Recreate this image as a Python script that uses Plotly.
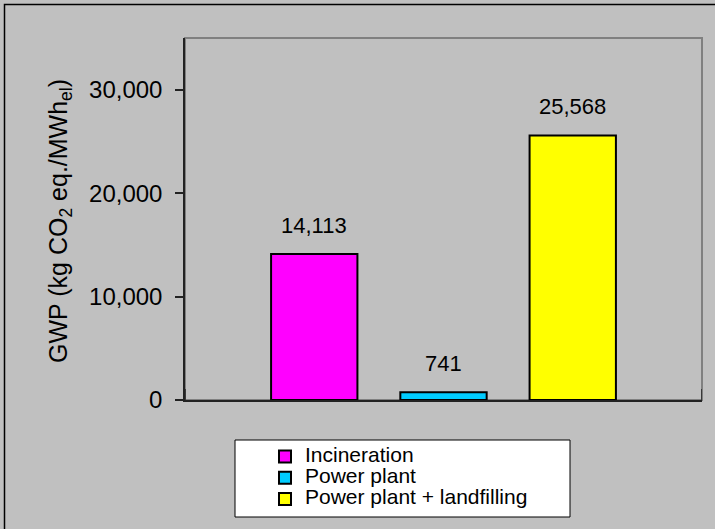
import plotly.graph_objects as go

# Global warming potential per MWh of electricity for each treatment route
series_names = ["Incineration", "Power plant", "Power plant + landfilling"]
gwp_values = [14113, 741, 25568]
bar_colors = ["#ff00ff", "#00ccff", "#ffff00"]
y_tick_values = [0, 10000, 20000, 30000]

FONT = "Liberation Sans, Arial, sans-serif"
W, H = 715, 529
M_L, M_R, M_T, M_B = 185, 13, 38, 129
PW, PH = W - M_L - M_R, H - M_T - M_B


def px_x(px):
    return (px - M_L) / PW


def px_y(py):
    return (H - M_B - py) / PH


fig = go.Figure()
for i, (name, val, col) in enumerate(zip(series_names, gwp_values, bar_colors)):
    fig.add_trace(go.Bar(
        x=[i], y=[val],
        name=f'<span style="font-size:21px">{name}</span>',
        width=0.668,
        marker=dict(color=col, line=dict(color="#000000", width=2)),
        hoverinfo="skip",
    ))
    fig.add_annotation(
        x=i, y=val, xref="x", yref="y", text=f"{val:,}", showarrow=False,
        yanchor="middle", yshift=29,
        font=dict(family=FONT, size=22, color="#000000"),
    )

shapes = [
    # outer chart frame
    dict(type="rect", xref="paper", yref="paper",
         x0=px_x(4.5), x1=px_x(W + 60), y0=px_y(H + 60), y1=px_y(4.5),
         line=dict(color="#000000", width=1.5), layer="below"),
    # plot area frame (top and right edges are grey)
    dict(type="rect", xref="paper", yref="paper", x0=0, x1=1, y0=0, y1=1,
         line=dict(color="#808080", width=2), layer="below"),
    # legend box
    dict(type="rect", xref="paper", yref="paper",
         x0=px_x(235), x1=px_x(570), y0=px_y(517), y1=px_y(440),
         fillcolor="#ffffff", line=dict(color="#000000", width=1), layer="above"),
]
# category-boundary tick marks crossing the x axis
for xb in (-1, 3):
    shapes.append(dict(type="line", xref="x", yref="y", x0=xb, x1=xb,
                       ysizemode="pixel", yanchor=0, y0=-11, y1=11,
                       line=dict(color="#222222", width=1.5), layer="above"))

fig.add_annotation(
    text="GWP (kg CO<sub>2</sub> eq./MWh<sub>el</sub>)",
    xref="paper", yref="paper", x=px_x(60), y=px_y(221),
    xanchor="center", yanchor="middle", textangle=-90, showarrow=False,
    font=dict(family=FONT, size=25, color="#000000"),
)

fig.update_layout(
    width=W, height=H,
    margin=dict(l=M_L, r=M_R, t=M_T, b=M_B, pad=0, autoexpand=False),
    paper_bgcolor="#c0c0c0", plot_bgcolor="#c0c0c0",
    font=dict(family=FONT, color="#000000"),
    showlegend=True,
    legend=dict(
        x=px_x(265), y=px_y(441), xanchor="left", yanchor="top",
        bgcolor="rgba(0,0,0,0)", borderwidth=0,
        font=dict(family=FONT, size=14, color="#000000"),
        tracegroupgap=0, traceorder="normal",
    ),
    shapes=shapes,
    xaxis=dict(range=[-1, 3], showticklabels=False, ticks="", showgrid=False,
               zeroline=False, showline=True, linecolor="#222222", linewidth=1.5,
               fixedrange=True),
    yaxis=dict(range=[0, 35000], tickvals=y_tick_values, tickformat=",",
               ticks="outside", ticklen=8, tickwidth=1.5, tickcolor="#222222",
               ticklabelstandoff=8,
               showgrid=False, zeroline=False, showline=True,
               linecolor="#222222", linewidth=1.5,
               tickfont=dict(family=FONT, size=24, color="#000000"),
               fixedrange=True),
)

fig.write_html("out.html")
